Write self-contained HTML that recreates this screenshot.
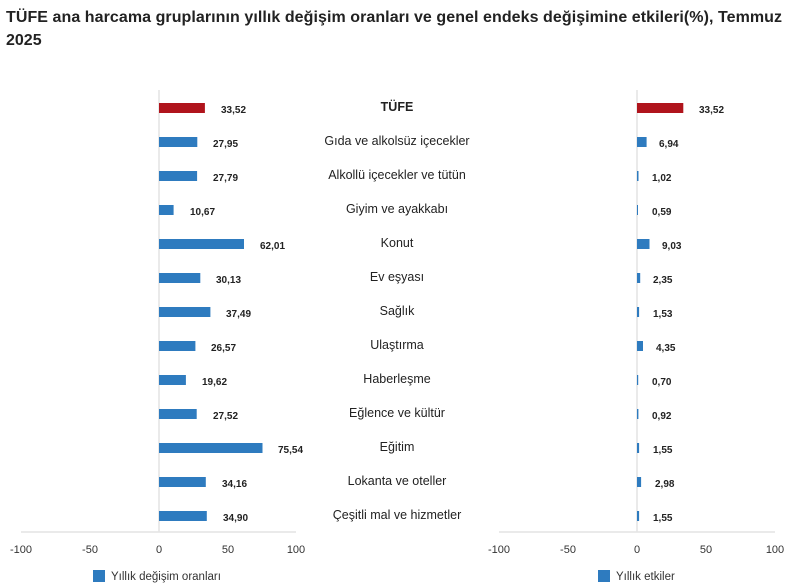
<!DOCTYPE html><html><head><meta charset="utf-8"><style>body{margin:0;background:#fff}svg{display:block}text{font-family:"Liberation Sans",sans-serif}</style></head><body>
<svg width="786" height="584" xmlns="http://www.w3.org/2000/svg">
<text x="6" y="22" font-size="16" font-weight="bold" fill="#222" textLength="776">TÜFE ana harcama gruplarının yıllık değişim oranları ve genel endeks değişimine etkileri(%), Temmuz</text>
<text x="6" y="45" font-size="16" font-weight="bold" fill="#222">2025</text>
<g stroke="#e4e4e4" stroke-width="1.5">
<line x1="21" y1="532" x2="296" y2="532"/><line x1="159" y1="90" x2="159" y2="532"/>
<line x1="499" y1="532" x2="775" y2="532"/><line x1="637" y1="90" x2="637" y2="532"/>
</g>
<g font-size="11" fill="#333" text-anchor="middle">
<text x="21" y="553">-100</text><text x="90" y="553">-50</text><text x="159" y="553">0</text><text x="228" y="553">50</text><text x="296" y="553">100</text>
<text x="499" y="553">-100</text><text x="568" y="553">-50</text><text x="637" y="553">0</text><text x="706" y="553">50</text><text x="775" y="553">100</text>
</g>
<rect x="93" y="570" width="12" height="12" fill="#2e7bbf"/><text x="111" y="580" font-size="11.5" fill="#333">Yıllık değişim oranları</text>
<rect x="598" y="570" width="12" height="12" fill="#2e7bbf"/><text x="616" y="580" font-size="11.5" fill="#333">Yıllık etkiler</text>

<g fill="#2e7bbf">
<rect x="159" y="103" width="45.9" height="10" fill="#b0141c"/>
<rect x="159" y="137" width="38.3" height="10"/>
<rect x="159" y="171" width="38.1" height="10"/>
<rect x="159" y="205" width="14.6" height="10"/>
<rect x="159" y="239" width="85" height="10"/>
<rect x="159" y="273" width="41.3" height="10"/>
<rect x="159" y="307" width="51.4" height="10"/>
<rect x="159" y="341" width="36.4" height="10"/>
<rect x="159" y="375" width="26.9" height="10"/>
<rect x="159" y="409" width="37.7" height="10"/>
<rect x="159" y="443" width="103.5" height="10"/>
<rect x="159" y="477" width="46.8" height="10"/>
<rect x="159" y="511" width="47.8" height="10"/>
<rect x="637" y="103" width="46.3" height="10" fill="#b0141c"/>
<rect x="637" y="137" width="9.6" height="10"/>
<rect x="637" y="171" width="1.5" height="10"/>
<rect x="637" y="205" width="1" height="10"/>
<rect x="637" y="239" width="12.5" height="10"/>
<rect x="637" y="273" width="3.2" height="10"/>
<rect x="637" y="307" width="2.1" height="10"/>
<rect x="637" y="341" width="6" height="10"/>
<rect x="637" y="375" width="1.2" height="10"/>
<rect x="637" y="409" width="1.4" height="10"/>
<rect x="637" y="443" width="2.1" height="10"/>
<rect x="637" y="477" width="4.1" height="10"/>
<rect x="637" y="511" width="2.1" height="10"/>
</g>
<g font-size="10" font-weight="bold" fill="#222">
<text x="221" y="113">33,52</text><text x="213" y="147">27,95</text><text x="213" y="181">27,79</text><text x="190" y="215">10,67</text><text x="260" y="249">62,01</text><text x="216" y="283">30,13</text><text x="226" y="317">37,49</text><text x="211" y="351">26,57</text><text x="202" y="385">19,62</text><text x="213" y="419">27,52</text><text x="278" y="453">75,54</text><text x="222" y="487">34,16</text><text x="223" y="521">34,90</text>
<text x="699" y="113">33,52</text><text x="659" y="147">6,94</text><text x="652" y="181">1,02</text><text x="652" y="215">0,59</text><text x="662" y="249">9,03</text><text x="653" y="283">2,35</text><text x="653" y="317">1,53</text><text x="656" y="351">4,35</text><text x="652" y="385">0,70</text><text x="652" y="419">0,92</text><text x="653" y="453">1,55</text><text x="655" y="487">2,98</text><text x="653" y="521">1,55</text>
</g>
<g font-size="12.5" fill="#222" text-anchor="middle">
<text x="397" y="111" font-weight="bold">TÜFE</text>
<text x="397" y="145">Gıda ve alkolsüz içecekler</text>
<text x="397" y="179">Alkollü içecekler ve tütün</text>
<text x="397" y="213">Giyim ve ayakkabı</text>
<text x="397" y="247">Konut</text>
<text x="397" y="281">Ev eşyası</text>
<text x="397" y="315">Sağlık</text>
<text x="397" y="349">Ulaştırma</text>
<text x="397" y="383">Haberleşme</text>
<text x="397" y="417">Eğlence ve kültür</text>
<text x="397" y="451">Eğitim</text>
<text x="397" y="485">Lokanta ve oteller</text>
<text x="397" y="519">Çeşitli mal ve hizmetler</text>
</g>
</svg></body></html>
